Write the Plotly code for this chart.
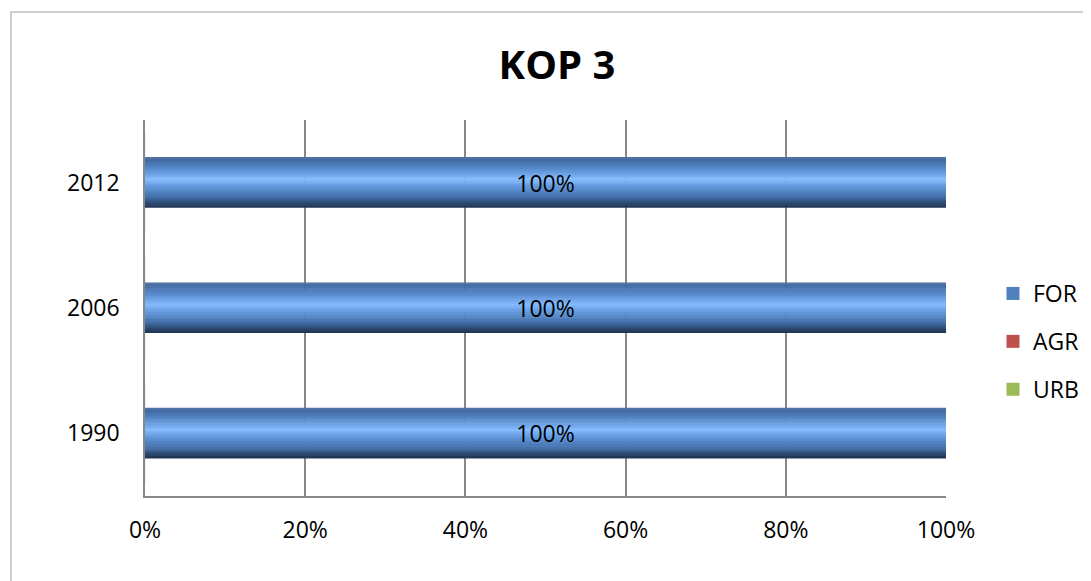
import plotly.graph_objects as go

years = ["1990", "2006", "2012"]
for_vals = [1.0, 1.0, 1.0]
agr_vals = [0.0, 0.0, 0.0]
urb_vals = [0.0, 0.0, 0.0]
x_ticks = [0, 0.2, 0.4, 0.6, 0.8, 1.0]
title_text = "KOP 3"
series_names = ["FOR", "AGR", "URB"]
series_colors = ["#4F81BD", "#C0504D", "#9BBB59"]

FONT = "Open Sans, Lato, sans-serif"
BAR_W = 0.4
BODY = 8  # default page margin of the html body

W, H = 1091 - BODY, 581 - BODY
L, R, T, B = 145 - BODY, 145, 120 - BODY, 85
PW, PH = W - L - R, H - T - B

# gradient stops (t from top of bar to bottom) for a cylinder-like look
stops = [
    (0.00, (0x55, 0x76, 0xA2)),
    (0.06, (0x41, 0x6A, 0xA2)),
    (0.25, (0x5A, 0x8E, 0xD0)),
    (0.44, (0x84, 0xBC, 0xFF)),
    (0.60, (0x5F, 0x95, 0xD8)),
    (0.80, (0x43, 0x70, 0xAA)),
    (0.94, (0x28, 0x43, 0x66)),
    (1.00, (0x1D, 0x31, 0x50)),
]


def color_at(t):
    for (t0, c0), (t1, c1) in zip(stops[:-1], stops[1:]):
        if t0 <= t <= t1:
            f = (t - t0) / (t1 - t0) if t1 > t0 else 0
            c = [round(a + (b - a) * f) for a, b in zip(c0, c1)]
            return "rgb(%d,%d,%d)" % tuple(c)
    return "rgb(%d,%d,%d)" % stops[-1][1]


fig = go.Figure()

# zero-valued series (draw nothing visible, as in the original)
fig.add_trace(go.Bar(y=years, x=urb_vals, orientation="h", name="URB",
                     marker=dict(color=series_colors[2]), showlegend=False))
fig.add_trace(go.Bar(y=years, x=agr_vals, orientation="h", name="AGR",
                     marker=dict(color=series_colors[1]), showlegend=False))

N = 26
for i in range(N):
    t0 = i / N
    t1 = (i + 1) / N
    tm = (t0 + t1) / 2
    fig.add_trace(go.Bar(
        y=years, x=for_vals, orientation="h",
        width=(t1 - t0) * BAR_W + 0.004,
        offset=BAR_W / 2 - t1 * BAR_W,
        marker=dict(color=color_at(tm), line=dict(width=0)),
        showlegend=False, hoverinfo="skip",
    ))

# label trace (transparent) carrying the data labels
fig.add_trace(go.Bar(
    y=years, x=for_vals, orientation="h", width=BAR_W,
    marker=dict(color="rgba(0,0,0,0)", line=dict(width=0)),
    texttemplate="%{x:.0%}", textposition="inside", insidetextanchor="middle",
    textfont=dict(size=23, color="black", family=FONT),
    constraintext="none", showlegend=False, hoverinfo="skip",
))

# legend entries with square swatches
for name, col in zip(series_names, series_colors):
    fig.add_trace(go.Scatter(x=[None], y=[None], mode="markers", name=name,
                             marker=dict(symbol="square", size=13, color=col),
                             legendgroup=name))

fig.update_layout(
    width=W, height=H,
    paper_bgcolor="white", plot_bgcolor="white",
    barmode="overlay",
    margin=dict(l=L, r=R, t=T, b=B, autoexpand=False),
    font=dict(family=FONT, size=23, color="black"),
    title=dict(text="<b>" + title_text + "</b>", x=(557 - BODY) / W, xanchor="center",
               y=1 - (65 - BODY) / H, yanchor="middle",
               font=dict(size=40, family=FONT, color="black")),
    legend=dict(x=(993 - BODY - L) / PW, xanchor="left",
                y=1 - (272 - 120) / PH, yanchor="top",
                traceorder="grouped", tracegroupgap=15,
                font=dict(size=23, family=FONT), itemwidth=30,
                bgcolor="rgba(0,0,0,0)"),
    shapes=[dict(type="rect", xref="paper", yref="paper",
                 x0=(11 - 145) / PW, x1=1.5, y0=-0.6, y1=1 + (120 - 12) / PH,
                 line=dict(color="#BFBFBF", width=1.5), layer="below")],
)

fig.update_xaxes(range=[0, 1], tickvals=x_ticks, tickformat=".0%",
                 showgrid=True, gridcolor="#878787", gridwidth=1.5,
                 showline=True, linecolor="#878787", linewidth=1.5,
                 zeroline=False, ticks="", ticklabelstandoff=13,
                 tickfont=dict(size=23, family=FONT))
fig.update_yaxes(type="category", categoryorder="array", categoryarray=years,
                 showgrid=False, showline=True, linecolor="#878787", linewidth=1.5,
                 ticks="", ticklabelstandoff=19, tickfont=dict(size=23, family=FONT))

fig.write_html("out.html")
